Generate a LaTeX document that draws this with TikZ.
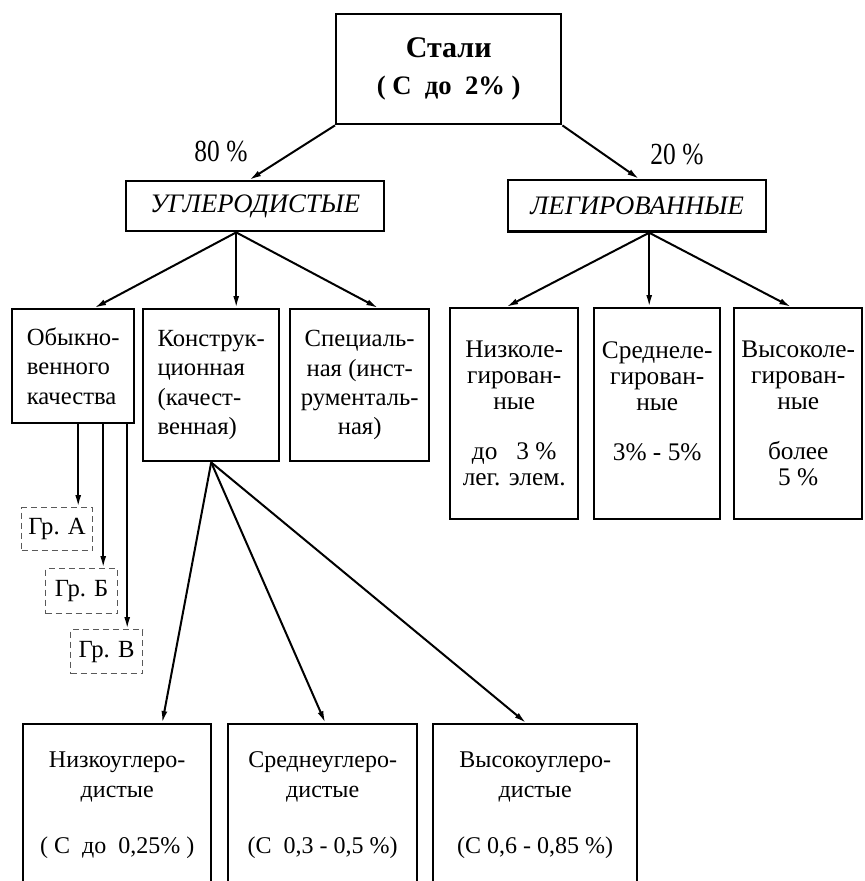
\documentclass[tikz,border=0pt]{standalone}
\usepackage{fontspec}
\setmainfont{Liberation Serif}
\newfontfamily\narrowfont[FakeStretch=0.83]{Liberation Serif}
\usetikzlibrary{arrows.meta}

\tikzset{every picture/.style={line width=0.75pt}}
\tikzset{
  blk/.style={draw, line width=1.8pt, anchor=north west, inner sep=2pt},
  grbox/.style={draw=black!65, line width=0.9pt, dash pattern=on 4.5pt off 3pt, anchor=north west, inner sep=1pt, font=\fontsize{18.5}{20}\selectfont},
  arr/.style={line width=1.5pt, -{Latex[length=9pt,width=4.5pt]}},
  headtxt/.style={font=\itshape\fontsize{20}{22}\selectfont},
  subtxt/.style={font=\fontsize{18.5}{22}\selectfont},
  legtxt/.style={font=\fontsize{19}{19.5}\selectfont, align=center},
  bottxt/.style={font=\fontsize{18}{22.5}\selectfont, align=center},
}

\begin{document}
\begin{tikzpicture}[x=0.75pt,y=0.75pt,yscale=-1,xscale=1]
\useasboundingbox (0,0) rectangle (864,881);

%Top box
\node[blk, minimum width=168.75pt, minimum height=82.5pt, align=center, font=\bfseries\fontsize{22.5}{27}\selectfont] (stal) at (335,13) {Стали\\[1pt]{\fontsize{20}{24}\selectfont ( С\ \ до\ \ 2\% )}};

%Percent labels
\node (p80) at (221,152) {\narrowfont\fontsize{23}{23}\selectfont 80 \%};
\node (p20) at (677,155) {\narrowfont\fontsize{23}{23}\selectfont 20 \%};

%Second level
\node[blk, headtxt, minimum width=193.5pt, minimum height=37.5pt] (ugl) at (125,180) {УГЛЕРОДИСТЫЕ};
\node[blk, headtxt, minimum width=193.5pt, minimum height=38.5pt] (leg) at (507,179) {ЛЕГИРОВАННЫЕ};

%Carbon steels
\node[blk, subtxt, align=left, minimum width=91.5pt, minimum height=85.5pt] (obyk) at (11,308) {Обыкно-\\венного\\качества};
\node[blk, subtxt, align=left, minimum width=102pt, minimum height=114pt] (konstr) at (142,308) {Конструк-\\ционная\\(качест-\\венная)};
\node[blk, subtxt, align=center, minimum width=104.25pt, minimum height=114pt] (spec) at (289,308) {Специаль-\\ная (инст-\\рументаль-\\ная)};

%Alloy steels
\node[blk, legtxt, minimum width=96pt, minimum height=158.25pt] (nleg) at (449,307) {Низколе-\\гирован-\\ные\\[18pt]до\ \ \ 3 \%\\лег. элем.};
\node[blk, legtxt, minimum width=94.5pt, minimum height=158.25pt] (sleg) at (593,307) {Среднеле-\\гирован-\\ные\\[18pt]3\% - 5\%\\\mbox{}};
\node[blk, legtxt, minimum width=96pt, minimum height=158.25pt] (vleg) at (733,307) {Высоколе-\\гирован-\\ные\\[18pt]более\\5 \%};

%Groups
\node[grbox, minimum width=53.25pt, minimum height=32.25pt] (grA) at (21,507) {Гр. А};
\node[grbox, minimum width=54pt, minimum height=33.75pt] (grB) at (45,568) {Гр. Б};
\node[grbox, minimum width=54pt, minimum height=33pt] (grV) at (70,629) {Гр. В};

%Carbon content
\node[blk, bottxt, minimum width=141pt, minimum height=155pt] (nug) at (22,723) {Низкоуглеро-\\дистые\\[20pt]( С\ \ до\ \ 0,25\% )\\[15pt]\mbox{}};
\node[blk, bottxt, minimum width=141.75pt, minimum height=155pt] (sug) at (227,723) {Среднеуглеро-\\дистые\\[20pt](С\ \ 0,3 - 0,5 \%)\\[15pt]\mbox{}};
\node[blk, bottxt, minimum width=153pt, minimum height=155pt] (vug) at (432,723) {Высокоуглеро-\\дистые\\[20pt](С 0,6 - 0,85 \%)\\[15pt]\mbox{}};

%Forks
\coordinate (uglfork) at ([xshift=-14.25pt]ugl.south);
\coordinate (legfork) at ([xshift=9pt]leg.south);
\coordinate (oa) at ([xshift=3.75pt]obyk.south);
\coordinate (ob) at ([xshift=22.5pt]obyk.south);
\coordinate (ov) at ([xshift=40.5pt]obyk.south);

%Arrows
\draw[arr] (stal.south west) -- ([xshift=-4.5pt]ugl.north);
\draw[arr] (stal.south east) -- ([xshift=1.5pt]leg.north);
\draw[arr] (uglfork) -- ([xshift=15.75pt]obyk.north);
\draw[arr] (uglfork) -- ([xshift=18.75pt]konstr.north);
\draw[arr] (uglfork) -- ([xshift=13.9pt]spec.north);
\draw[arr] (legfork) -- ([xshift=-6pt]nleg.north);
\draw[arr] (legfork) -- ([xshift=-6pt]sleg.north);
\draw[arr] (legfork) -- ([xshift=-5.25pt]vleg.north);
\draw[arr] (oa) -- (oa |- grA.north);
\draw[arr] (ob) -- (ob |- grB.north);
\draw[arr] (ov) -- (ov |- grV.north);
\draw[arr] (konstr.south) -- ([xshift=33.75pt]nug.north);
\draw[arr] (konstr.south) -- ([xshift=2pt]sug.north);
\draw[arr] (konstr.south) -- ([xshift=-6.75pt]vug.north);

\end{tikzpicture}
\end{document}
